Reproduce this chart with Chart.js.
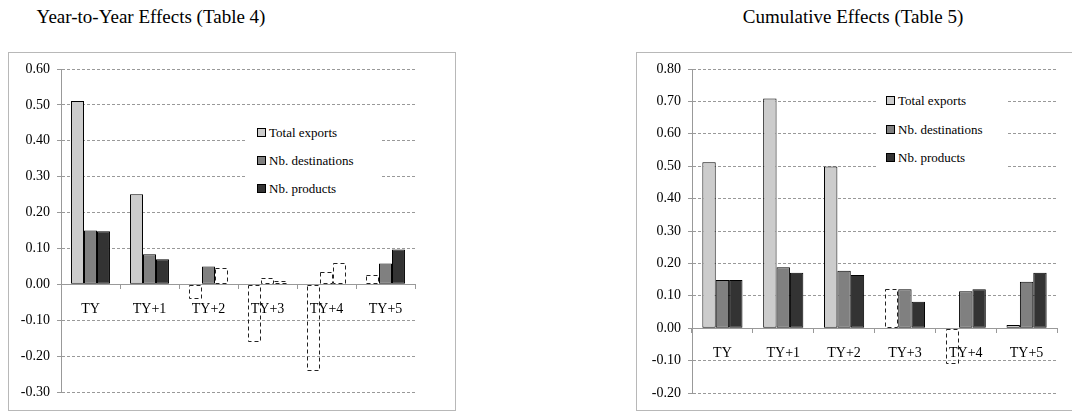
<!DOCTYPE html>
<html>
<head>
<meta charset="utf-8">
<script src="https://cdn.jsdelivr.net/npm/chart.js@4.4.1/dist/chart.umd.min.js"></script>
<style>
  html, body { margin: 0; padding: 0; background: #fff; }
  body { width: 1072px; height: 412px; position: relative; overflow: hidden; font-family: "Liberation Serif", "Times New Roman", Times, "DejaVu Serif", serif; }
  .title { position: absolute; top: 6px; font-size: 19px; color: #000; white-space: nowrap; text-align: center; }
  .box { position: absolute; top: 52px; border: 1px solid #b8b8b8; background: #fff; }
  .box canvas { display: block; }
  .legend { position: absolute; background: #fff; font-size: 13px; color: #000; }
  .legend .item { position: absolute; left: 0; white-space: nowrap; height: 16px; line-height: 16px; }
  .legend .sw { display: inline-block; width: 7px; height: 7px; border: 1px solid #000; margin-right: 3px; vertical-align: 0px; }
</style>
</head>
<body>
<div class="title" id="t1" style="left:-4px; width:310px;">Year-to-Year Effects (Table 4)</div>
<div class="title" id="t2" style="left:698px; width:310px;">Cumulative Effects (Table 5)</div>

<div class="box" style="left:8px; width:446px; height:357px;"><canvas id="c1" width="446" height="357"></canvas></div>
<div class="box" style="left:636px; width:450px; height:357px;"><canvas id="c2" width="450" height="357"></canvas></div>

<div class="legend" id="lg1" style="left:247px; top:119px; width:134px; height:84px;"></div>
<div class="legend" id="lg2" style="left:876px; top:88px; width:131px; height:84px;"></div>

<script>
// ---------- data ----------
const categories = ["TY", "TY+1", "TY+2", "TY+3", "TY+4", "TY+5"];
const seriesNames = ["Total exports", "Nb. destinations", "Nb. products"];

// Year-to-Year Effects (Table 4)
const yTotal = [0.511, 0.251, -0.042, -0.160, -0.241, 0.026];
const yDest  = [0.150, 0.084, 0.050, 0.018, 0.035, 0.058];
const yProd  = [0.148, 0.070, 0.046, 0.008, 0.060, 0.097];
// significance flags (0 = not significant, drawn as dashed outline)
const ySigTotal = [1, 1, 0, 0, 0, 0];
const ySigDest  = [1, 1, 1, 0, 0, 1];
const ySigProd  = [1, 1, 0, 0, 0, 1];

// Cumulative Effects (Table 5)
const cTotal = [0.512, 0.709, 0.499, 0.120, -0.111, 0.010];
const cDest  = [0.149, 0.188, 0.177, 0.120, 0.114, 0.143];
const cProd  = [0.149, 0.171, 0.164, 0.082, 0.120, 0.171];
const cSigTotal = [1, 1, 1, 0, 0, 1];
const cSigDest  = [1, 1, 1, 1, 1, 1];
const cSigProd  = [1, 1, 1, 1, 1, 1];

// axis ranges / tick labels
const yAxis1 = { min: -0.30, max: 0.60, step: 0.10 };
const yAxis2 = { min: -0.20, max: 0.80, step: 0.10 };

// ---------- styling ----------
const fills = ["#cccccc", "#808080", "#333333"];
const FONT = "'Liberation Serif', 'Times New Roman', Times, 'DejaVu Serif', serif";

const dashedPlugin = {
  id: 'dashedBars',
  afterDatasetsDraw(chart) {
    const ctx = chart.ctx;
    chart.data.datasets.forEach((ds, di) => {
      const meta = chart.getDatasetMeta(di);
      meta.data.forEach((el, i) => {
        if (ds.sig[i]) return;
        const p = el.getProps(['x', 'y', 'base', 'width'], true);
        const left = Math.round(p.x - p.width / 2) + 0.5;
        const right = Math.round(p.x + p.width / 2) - 0.5;
        const top = Math.round(Math.min(p.y, p.base)) + 0.5;
        const bot = Math.round(Math.max(p.y, p.base)) - 0.5;
        ctx.save();
        ctx.strokeStyle = '#222';
        ctx.lineWidth = 1;
        ctx.setLineDash([4, 3]);
        ctx.strokeRect(left, top, right - left, bot - top);
        ctx.restore();
      });
    });
  }
};

function makeChart(id, values, sigs, axis, yWidth, pad) {
  const datasets = values.map((v, k) => ({
    label: seriesNames[k],
    data: v,
    sig: sigs[k],
    backgroundColor: (c) => sigs[k][c.dataIndex] ? fills[k] : 'rgba(0,0,0,0)',
    borderColor: '#000',
    borderWidth: (c) => sigs[k][c.dataIndex] ? 1 : 0,
    borderSkipped: false,
    categoryPercentage: 0.66,
    barPercentage: 1.0
  }));
  return new Chart(document.getElementById(id), {
    type: 'bar',
    data: { labels: categories, datasets },
    plugins: [dashedPlugin],
    options: {
      responsive: false,
      animation: false,
      events: [],
      layout: { padding: pad },
      plugins: { legend: { display: false }, tooltip: { enabled: false }, title: { display: false } },
      scales: {
        x: {
          position: { y: 0 },
          grid: { display: true, drawOnChartArea: false, drawTicks: true, tickLength: 4, color: '#999', offset: true },
          border: { display: true, color: '#999', width: 1 },
          ticks: { color: '#000', font: { family: FONT, size: 14 }, padding: 13, maxRotation: 0, autoSkip: false }
        },
        y: {
          min: axis.min, max: axis.max,
          afterFit: (s) => { s.width = yWidth; },
          grid: { color: '#999', lineWidth: 1, tickLength: 4, tickBorderDash: [], drawTicks: true },
          border: { display: true, color: '#999', width: 1, dash: [3, 2] },
          ticks: {
            stepSize: axis.step,
            color: '#000',
            padding: 7,
            font: { family: FONT, size: 14 },
            callback: (v) => Number(v).toFixed(2)
          }
        }
      }
    }
  });
}

makeChart('c1', [yTotal, yDest, yProd], [ySigTotal, ySigDest, ySigProd], yAxis1, 52, { top: 16, right: 40, bottom: 18, left: 0 });
makeChart('c2', [cTotal, cDest, cProd], [cSigTotal, cSigDest, cSigProd], yAxis2, 55, { top: 16, right: 30, bottom: 17, left: 0 });

function buildLegend(id, rowTops) {
  const lg = document.getElementById(id);
  seriesNames.forEach((name, k) => {
    const d = document.createElement('div');
    d.className = 'item';
    d.style.top = rowTops[k] + 'px';
    d.style.left = '10px';
    const sw = document.createElement('span');
    sw.className = 'sw';
    sw.style.background = fills[k];
    d.appendChild(sw);
    d.appendChild(document.createTextNode(name));
    lg.appendChild(d);
  });
}
buildLegend('lg1', [6, 34, 62]);
buildLegend('lg2', [5, 34, 62]);
</script>
</body>
</html>
